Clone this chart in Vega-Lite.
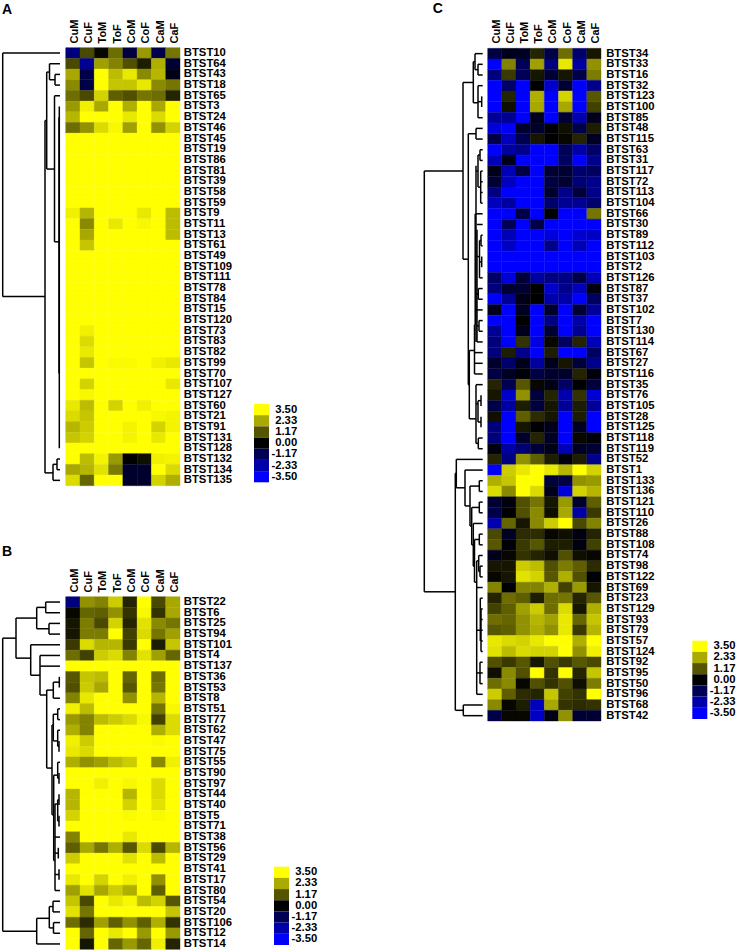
{"$schema":"https://vega.github.io/schema/vega-lite/v6.json","width":737,"height":951,"padding":0,"autosize":"none","background":"white","config":{"view":{"stroke":null},"axis":{"domain":false,"ticks":false,"grid":false,"labelFont":"Liberation Sans","labelFontWeight":"bold","labelFontSize":11.3,"labelColor":"#000000","labelOverlap":false,"labelBound":false,"labelFlush":false}},
"datasets":{
"legend":[{"label":"3.50","v":3.5,"k":"key"},{"label":"2.33","v":2.33,"k":"key"},{"label":"1.17","v":1.17,"k":"key"},{"label":"0.00","v":0,"k":"key"},{"label":"-1.17","v":-1.17,"k":"key"},{"label":"-2.33","v":-2.33,"k":"key"},{"label":"-3.50","v":-3.5,"k":"key"}],
"dendroA":[{"h0":0,"h1":57.3,"r0":0,"r1":0},{"h0":57.3,"h1":57.3,"r0":0,"r1":22.8},{"h0":15,"h1":57.3,"r0":22.8,"r1":22.8},{"h0":15,"h1":15,"r0":6.32,"r1":39.3},{"h0":13.3,"h1":15,"r0":6.32,"r1":6.32},{"h0":13.3,"h1":13.3,"r0":1.78,"r1":10.86},{"h0":10.5,"h1":13.3,"r0":1.78,"r1":1.78},{"h0":10.5,"h1":10.5,"r0":1,"r1":2.5},{"h0":0,"h1":10.5,"r0":1,"r1":1},{"h0":5,"h1":10.5,"r0":2.5,"r1":2.5},{"h0":5,"h1":5,"r0":2,"r1":3},{"h0":0,"h1":5,"r0":2,"r1":2},{"h0":0,"h1":5,"r0":3,"r1":3},{"h0":5.5,"h1":13.3,"r0":10.86,"r1":10.86},{"h0":5.5,"h1":5.5,"r0":4,"r1":17.67},{"h0":0,"h1":5.5,"r0":4,"r1":4},{"h0":1,"h1":5.5,"r0":17.67,"r1":17.67},{"h0":0.7,"h1":0.7,"r0":5,"r1":37},{"h0":1,"h1":1,"r0":6,"r1":30},{"h0":7,"h1":15,"r0":39.3,"r1":39.3},{"h0":7,"h1":7,"r0":38.5,"r1":40},{"h0":0,"h1":7,"r0":40,"r1":40},{"h0":3,"h1":7,"r0":38.5,"r1":38.5},{"h0":3,"h1":3,"r0":38,"r1":39},{"h0":0,"h1":3,"r0":38,"r1":38},{"h0":0,"h1":3,"r0":39,"r1":39}],
"dendroB":[{"h0":57.3,"h1":57.3,"r0":3.38,"r1":30.8},{"h0":44,"h1":57.3,"r0":3.38,"r1":3.38},{"h0":23.3,"h1":57.3,"r0":30.8,"r1":30.8},{"h0":44,"h1":44,"r0":1.5,"r1":5.25},{"h0":23.3,"h1":44,"r0":1.5,"r1":1.5},{"h0":23.3,"h1":23.3,"r0":0.5,"r1":2.5},{"h0":14.3,"h1":23.3,"r0":0.5,"r1":0.5},{"h0":14.3,"h1":14.3,"r0":0,"r1":1},{"h0":0,"h1":14.3,"r0":0,"r1":0},{"h0":0,"h1":14.3,"r0":1,"r1":1},{"h0":11,"h1":23.3,"r0":2.5,"r1":2.5},{"h0":11,"h1":11,"r0":2,"r1":3},{"h0":0,"h1":11,"r0":2,"r1":2},{"h0":0,"h1":11,"r0":3,"r1":3},{"h0":29.3,"h1":44,"r0":5.25,"r1":5.25},{"h0":29.3,"h1":29.3,"r0":4,"r1":6.85},{"h0":0,"h1":29.3,"r0":4,"r1":4},{"h0":20,"h1":29.3,"r0":6.85,"r1":6.85},{"h0":20,"h1":20,"r0":5,"r1":8.7},{"h0":0,"h1":20,"r0":5,"r1":5},{"h0":0,"h1":20,"r0":6,"r1":6},{"h0":13.3,"h1":20,"r0":8.7,"r1":8.7},{"h0":13.3,"h1":13.3,"r0":8.24,"r1":15.54},{"h0":6.7,"h1":13.3,"r0":8.24,"r1":8.24},{"h0":6.7,"h1":6.7,"r0":7.5,"r1":9},{"h0":0.7,"h1":6.7,"r0":7.5,"r1":7.5},{"h0":0.7,"h1":0.7,"r0":7,"r1":8},{"h0":0,"h1":6.7,"r0":9,"r1":9},{"h0":8,"h1":13.3,"r0":15.54,"r1":15.54},{"h0":8,"h1":8,"r0":11.5,"r1":19.9},{"h0":6.7,"h1":8,"r0":11.5,"r1":11.5},{"h0":6.7,"h1":6.7,"r0":10.5,"r1":13},{"h0":2.3,"h1":6.7,"r0":10.5,"r1":10.5},{"h0":2.3,"h1":2.3,"r0":10,"r1":11},{"h0":0,"h1":2.3,"r0":10,"r1":10},{"h0":0,"h1":2.3,"r0":11,"r1":11},{"h0":2.3,"h1":6.7,"r0":13,"r1":13},{"h0":2.3,"h1":2.3,"r0":12,"r1":13.5},{"h0":0,"h1":2.3,"r0":12,"r1":12},{"h0":1,"h1":2.3,"r0":13.5,"r1":13.5},{"h0":1,"h1":1,"r0":13,"r1":14},{"h0":6.3,"h1":8,"r0":19.9,"r1":19.9},{"h0":6.3,"h1":6.3,"r0":16.2,"r1":24.2},{"h0":2.3,"h1":6.3,"r0":16.2,"r1":16.2},{"h0":2.3,"h1":2.3,"r0":15,"r1":16.5},{"h0":0,"h1":2.3,"r0":15,"r1":15},{"h0":1,"h1":2.3,"r0":16.5,"r1":16.5},{"h0":1,"h1":1,"r0":16,"r1":17},{"h0":5,"h1":6.3,"r0":24.2,"r1":24.2},{"h0":5,"h1":5,"r0":18.9,"r1":27},{"h0":2.3,"h1":5,"r0":18.9,"r1":18.9},{"h0":2.3,"h1":2.3,"r0":18.5,"r1":20.5},{"h0":1,"h1":2.3,"r0":18.5,"r1":18.5},{"h0":1,"h1":1,"r0":18,"r1":19},{"h0":1,"h1":2.3,"r0":20.5,"r1":20.5},{"h0":1,"h1":1,"r0":20,"r1":21},{"h0":0,"h1":5,"r0":22,"r1":22},{"h0":1.7,"h1":5,"r0":23.5,"r1":23.5},{"h0":1.7,"h1":1.7,"r0":23,"r1":24},{"h0":1,"h1":5,"r0":25.5,"r1":25.5},{"h0":1,"h1":1,"r0":25,"r1":26},{"h0":0,"h1":5,"r0":27,"r1":27},{"h0":23.3,"h1":23.3,"r0":29.6,"r1":32},{"h0":0,"h1":23.3,"r0":32,"r1":32},{"h0":10.7,"h1":23.3,"r0":29.6,"r1":29.6},{"h0":10.7,"h1":10.7,"r0":28.5,"r1":30.5},{"h0":7,"h1":10.7,"r0":28.5,"r1":28.5},{"h0":7,"h1":7,"r0":28,"r1":29},{"h0":0,"h1":7,"r0":28,"r1":28},{"h0":0,"h1":7,"r0":29,"r1":29},{"h0":6.5,"h1":10.7,"r0":30.5,"r1":30.5},{"h0":6.5,"h1":6.5,"r0":30,"r1":31},{"h0":0,"h1":6.5,"r0":30,"r1":30},{"h0":0,"h1":6.5,"r0":31,"r1":31}],
"dendroC":[{"h0":58.4,"h1":58.4,"r0":11,"r1":50.4},{"h0":19.7,"h1":58.4,"r0":11,"r1":11},{"h0":27.4,"h1":58.4,"r0":50.4,"r1":50.4},{"h0":19.7,"h1":19.7,"r0":2.7,"r1":19.25},{"h0":9.4,"h1":19.7,"r0":2.7,"r1":2.7},{"h0":9.4,"h1":9.4,"r0":0.75,"r1":4.6},{"h0":7.7,"h1":9.4,"r0":0.75,"r1":0.75},{"h0":7.7,"h1":7.7,"r0":0,"r1":1.5},{"h0":0,"h1":7.7,"r0":0,"r1":0},{"h0":4.7,"h1":7.7,"r0":1.5,"r1":1.5},{"h0":4.7,"h1":4.7,"r0":1,"r1":2},{"h0":0,"h1":4.7,"r0":1,"r1":1},{"h0":0,"h1":4.7,"r0":2,"r1":2},{"h0":4.7,"h1":9.4,"r0":4.6,"r1":4.6},{"h0":4.7,"h1":4.7,"r0":3,"r1":6},{"h0":0,"h1":4.7,"r0":3,"r1":3},{"h0":0,"h1":4.7,"r0":6,"r1":6},{"h0":1,"h1":4.7,"r0":4.5,"r1":4.5},{"h0":1,"h1":1,"r0":4,"r1":5},{"h0":14.4,"h1":19.7,"r0":19.25,"r1":19.25},{"h0":14.4,"h1":14.4,"r0":7.5,"r1":31},{"h0":6.7,"h1":14.4,"r0":7.5,"r1":7.5},{"h0":6.7,"h1":6.7,"r0":7,"r1":8},{"h0":0,"h1":6.7,"r0":7,"r1":7},{"h0":0,"h1":6.7,"r0":8,"r1":8},{"h0":13.4,"h1":14.4,"r0":31,"r1":31},{"h0":13.4,"h1":13.4,"r0":27.8,"r1":34.2},{"h0":8.2,"h1":13.4,"r0":27.8,"r1":27.8},{"h0":8.2,"h1":8.2,"r0":25.4,"r1":30},{"h0":0,"h1":8.2,"r0":28,"r1":28},{"h0":0,"h1":8.2,"r0":29,"r1":29},{"h0":0,"h1":8.2,"r0":30,"r1":30},{"h0":7.5,"h1":8.2,"r0":25.4,"r1":25.4},{"h0":7.5,"h1":7.5,"r0":15,"r1":25.4},{"h0":6.7,"h1":6.7,"r0":10.5,"r1":27},{"h0":5.7,"h1":5.7,"r0":16.5,"r1":27},{"h0":2.7,"h1":2.7,"r0":9,"r1":10},{"h0":0,"h1":2.7,"r0":9,"r1":9},{"h0":0,"h1":2.7,"r0":10,"r1":10},{"h0":2.7,"h1":4.7,"r0":9.5,"r1":9.5},{"h0":4.7,"h1":4.7,"r0":9.5,"r1":12.5},{"h0":2,"h1":4.7,"r0":12.5,"r1":12.5},{"h0":2,"h1":2,"r0":11,"r1":14},{"h0":0,"h1":2,"r0":11,"r1":11},{"h0":0,"h1":2,"r0":12,"r1":12},{"h0":0,"h1":2,"r0":13,"r1":13},{"h0":0,"h1":2,"r0":14,"r1":14},{"h0":4.7,"h1":6.7,"r0":11,"r1":11},{"h0":0,"h1":6.7,"r0":15,"r1":15},{"h0":0,"h1":5.7,"r0":16,"r1":16},{"h0":1.7,"h1":1.7,"r0":17,"r1":18},{"h0":0,"h1":1.7,"r0":17,"r1":17},{"h0":0,"h1":1.7,"r0":18,"r1":18},{"h0":1,"h1":1,"r0":19,"r1":20},{"h0":3.2,"h1":3.2,"r0":17.5,"r1":21},{"h0":1.7,"h1":3.2,"r0":17.5,"r1":17.5},{"h0":1,"h1":3.2,"r0":19.5,"r1":19.5},{"h0":0,"h1":3.2,"r0":21,"r1":21},{"h0":3.2,"h1":5.7,"r0":19,"r1":19},{"h0":4.4,"h1":4.4,"r0":22,"r1":23},{"h0":0,"h1":4.4,"r0":22,"r1":22},{"h0":0,"h1":4.4,"r0":23,"r1":23},{"h0":4.4,"h1":6.7,"r0":22.5,"r1":22.5},{"h0":0,"h1":6.7,"r0":24,"r1":24},{"h0":0,"h1":5.7,"r0":27,"r1":27},{"h0":3.7,"h1":3.7,"r0":25,"r1":26},{"h0":0,"h1":3.7,"r0":25,"r1":25},{"h0":0,"h1":3.7,"r0":26,"r1":26},{"h0":3.7,"h1":5.7,"r0":25.5,"r1":25.5},{"h0":6.7,"h1":13.4,"r0":34.2,"r1":34.2},{"h0":6.7,"h1":6.7,"r0":31,"r1":36.5},{"h0":0,"h1":6.7,"r0":31,"r1":31},{"h0":4.7,"h1":6.7,"r0":32.8,"r1":32.8},{"h0":4.7,"h1":4.7,"r0":32.5,"r1":34.5},{"h0":1.7,"h1":4.7,"r0":32.5,"r1":32.5},{"h0":1.7,"h1":1.7,"r0":32,"r1":33},{"h0":1.7,"h1":4.7,"r0":34.5,"r1":34.5},{"h0":1.7,"h1":1.7,"r0":34,"r1":35},{"h0":4.4,"h1":6.7,"r0":36.5,"r1":36.5},{"h0":4.4,"h1":4.4,"r0":36,"r1":37},{"h0":0,"h1":4.4,"r0":36,"r1":36},{"h0":0,"h1":4.4,"r0":37,"r1":37},{"h0":27.4,"h1":27.4,"r0":39.3,"r1":61.5},{"h0":26.4,"h1":27.4,"r0":39.3,"r1":39.3},{"h0":26.4,"h1":26.4,"r0":38,"r1":40.66},{"h0":0,"h1":26.4,"r0":38,"r1":38},{"h0":17.7,"h1":26.4,"r0":40.66,"r1":40.66},{"h0":17.7,"h1":17.7,"r0":39,"r1":42.36},{"h0":0,"h1":17.7,"r0":39,"r1":39},{"h0":12.7,"h1":17.7,"r0":42.36,"r1":42.36},{"h0":12.7,"h1":12.7,"r0":40.5,"r1":44.23},{"h0":3.4,"h1":12.7,"r0":40.5,"r1":40.5},{"h0":3.4,"h1":3.4,"r0":40,"r1":41},{"h0":0,"h1":3.4,"r0":40,"r1":40},{"h0":0,"h1":3.4,"r0":41,"r1":41},{"h0":11,"h1":12.7,"r0":44.23,"r1":44.23},{"h0":11,"h1":11,"r0":42.5,"r1":46},{"h0":3.4,"h1":11,"r0":42.5,"r1":42.5},{"h0":3.4,"h1":3.4,"r0":42,"r1":43},{"h0":0,"h1":3.4,"r0":42,"r1":42},{"h0":0,"h1":3.4,"r0":43,"r1":43},{"h0":9.4,"h1":11,"r0":46,"r1":46},{"h0":9.4,"h1":9.4,"r0":44,"r1":48},{"h0":0,"h1":9.4,"r0":44,"r1":44},{"h0":8.2,"h1":9.4,"r0":48,"r1":48},{"h0":8.2,"h1":8.2,"r0":45.5,"r1":49.5},{"h0":3.4,"h1":8.2,"r0":45.5,"r1":45.5},{"h0":3.4,"h1":3.4,"r0":45,"r1":46},{"h0":0,"h1":3.4,"r0":45,"r1":45},{"h0":0,"h1":3.4,"r0":46,"r1":46},{"h0":6,"h1":8.2,"r0":49.5,"r1":49.5},{"h0":6,"h1":6,"r0":47.5,"r1":60},{"h0":0,"h1":6,"r0":60,"r1":60},{"h0":0,"h1":6,"r0":50,"r1":50},{"h0":4,"h1":6,"r0":47.5,"r1":47.5},{"h0":4,"h1":4,"r0":47,"r1":48.5},{"h0":0,"h1":4,"r0":47,"r1":47},{"h0":2.7,"h1":4,"r0":48.5,"r1":48.5},{"h0":2.7,"h1":2.7,"r0":48,"r1":49},{"h0":0,"h1":2.7,"r0":48,"r1":48},{"h0":0,"h1":2.7,"r0":49,"r1":49},{"h0":2.4,"h1":6,"r0":54,"r1":54},{"h0":2.4,"h1":2.4,"r0":51,"r1":55},{"h0":0,"h1":2.4,"r0":51,"r1":51},{"h0":1.7,"h1":1.7,"r0":52,"r1":56},{"h0":0,"h1":1.7,"r0":52,"r1":52},{"h0":0,"h1":1.7,"r0":53,"r1":53},{"h0":0,"h1":1.7,"r0":54,"r1":54},{"h0":0,"h1":1.7,"r0":55,"r1":55},{"h0":0,"h1":1.7,"r0":56,"r1":56},{"h0":2.7,"h1":6,"r0":58,"r1":58},{"h0":2.7,"h1":2.7,"r0":57,"r1":59},{"h0":0,"h1":2.7,"r0":57,"r1":57},{"h0":0,"h1":2.7,"r0":58,"r1":58},{"h0":0,"h1":2.7,"r0":59,"r1":59},{"h0":19.4,"h1":19.4,"r0":61,"r1":62},{"h0":0,"h1":19.4,"r0":61,"r1":61},{"h0":0,"h1":19.4,"r0":62,"r1":62},{"h0":19.4,"h1":27.4,"r0":61.5,"r1":61.5}],
"heatA":[
{"g":"BTST10","c":"CuM","v":-1.7},{"g":"BTST10","c":"CuF","v":1},{"g":"BTST10","c":"ToM","v":0.1},{"g":"BTST10","c":"ToF","v":1.5},{"g":"BTST10","c":"CoM","v":-0.9},{"g":"BTST10","c":"CoF","v":2.1},{"g":"BTST10","c":"CaM","v":-1},{"g":"BTST10","c":"CaF","v":1.6},
{"g":"BTST64","c":"CuM","v":1},{"g":"BTST64","c":"CuF","v":-2},{"g":"BTST64","c":"ToM","v":2.2},{"g":"BTST64","c":"ToF","v":1.8},{"g":"BTST64","c":"CoM","v":1.1},{"g":"BTST64","c":"CoF","v":0.4},{"g":"BTST64","c":"CaM","v":2.4},{"g":"BTST64","c":"CaF","v":-0.7},
{"g":"BTST43","c":"CuM","v":2.3},{"g":"BTST43","c":"CuF","v":-1},{"g":"BTST43","c":"ToM","v":3.5},{"g":"BTST43","c":"ToF","v":2.6},{"g":"BTST43","c":"CoM","v":3.2},{"g":"BTST43","c":"CoF","v":1.9},{"g":"BTST43","c":"CaM","v":2.5},{"g":"BTST43","c":"CaF","v":-0.3},
{"g":"BTST18","c":"CuM","v":1.9},{"g":"BTST18","c":"CuF","v":-1},{"g":"BTST18","c":"ToM","v":3.5},{"g":"BTST18","c":"ToF","v":2.7},{"g":"BTST18","c":"CoM","v":2.7},{"g":"BTST18","c":"CoF","v":3.2},{"g":"BTST18","c":"CaM","v":1.9},{"g":"BTST18","c":"CaF","v":1.6},
{"g":"BTST65","c":"CuM","v":1.5},{"g":"BTST65","c":"CuF","v":1},{"g":"BTST65","c":"ToM","v":2.9},{"g":"BTST65","c":"ToF","v":1.3},{"g":"BTST65","c":"CoM","v":1.1},{"g":"BTST65","c":"CoF","v":1.6},{"g":"BTST65","c":"CaM","v":1.5},{"g":"BTST65","c":"CaF","v":0.5},
{"g":"BTST3","c":"CuM","v":2.1},{"g":"BTST3","c":"CuF","v":3.3},{"g":"BTST3","c":"ToM","v":2.3},{"g":"BTST3","c":"ToF","v":3.5},{"g":"BTST3","c":"CoM","v":2.4},{"g":"BTST3","c":"CoF","v":3.5},{"g":"BTST3","c":"CaM","v":2.3},{"g":"BTST3","c":"CaF","v":3.5},
{"g":"BTST24","c":"CuM","v":2.5},{"g":"BTST24","c":"CuF","v":3.5},{"g":"BTST24","c":"ToM","v":3.5},{"g":"BTST24","c":"ToF","v":3.5},{"g":"BTST24","c":"CoM","v":3.2},{"g":"BTST24","c":"CoF","v":3.5},{"g":"BTST24","c":"CaM","v":3},{"g":"BTST24","c":"CaF","v":3.5},
{"g":"BTST46","c":"CuM","v":1.5},{"g":"BTST46","c":"CuF","v":2},{"g":"BTST46","c":"ToM","v":3},{"g":"BTST46","c":"ToF","v":3.4},{"g":"BTST46","c":"CoM","v":2.2},{"g":"BTST46","c":"CoF","v":3.5},{"g":"BTST46","c":"CaM","v":2},{"g":"BTST46","c":"CaF","v":2.9},
{"g":"BTST45","c":"CuM","v":3.5},{"g":"BTST45","c":"CuF","v":3.5},{"g":"BTST45","c":"ToM","v":3.5},{"g":"BTST45","c":"ToF","v":3.5},{"g":"BTST45","c":"CoM","v":3.5},{"g":"BTST45","c":"CoF","v":3.5},{"g":"BTST45","c":"CaM","v":3.5},{"g":"BTST45","c":"CaF","v":3.5},
{"g":"BTST19","c":"CuM","v":3.5},{"g":"BTST19","c":"CuF","v":3.5},{"g":"BTST19","c":"ToM","v":3.5},{"g":"BTST19","c":"ToF","v":3.5},{"g":"BTST19","c":"CoM","v":3.5},{"g":"BTST19","c":"CoF","v":3.5},{"g":"BTST19","c":"CaM","v":3.5},{"g":"BTST19","c":"CaF","v":3.5},
{"g":"BTST86","c":"CuM","v":3.5},{"g":"BTST86","c":"CuF","v":3.5},{"g":"BTST86","c":"ToM","v":3.5},{"g":"BTST86","c":"ToF","v":3.5},{"g":"BTST86","c":"CoM","v":3.5},{"g":"BTST86","c":"CoF","v":3.5},{"g":"BTST86","c":"CaM","v":3.5},{"g":"BTST86","c":"CaF","v":3.5},
{"g":"BTST81","c":"CuM","v":3.5},{"g":"BTST81","c":"CuF","v":3.5},{"g":"BTST81","c":"ToM","v":3.5},{"g":"BTST81","c":"ToF","v":3.5},{"g":"BTST81","c":"CoM","v":3.5},{"g":"BTST81","c":"CoF","v":3.5},{"g":"BTST81","c":"CaM","v":3.5},{"g":"BTST81","c":"CaF","v":3.5},
{"g":"BTST39","c":"CuM","v":3.5},{"g":"BTST39","c":"CuF","v":3.5},{"g":"BTST39","c":"ToM","v":3.5},{"g":"BTST39","c":"ToF","v":3.5},{"g":"BTST39","c":"CoM","v":3.5},{"g":"BTST39","c":"CoF","v":3.5},{"g":"BTST39","c":"CaM","v":3.5},{"g":"BTST39","c":"CaF","v":3.5},
{"g":"BTST58","c":"CuM","v":3.5},{"g":"BTST58","c":"CuF","v":3.5},{"g":"BTST58","c":"ToM","v":3.5},{"g":"BTST58","c":"ToF","v":3.5},{"g":"BTST58","c":"CoM","v":3.5},{"g":"BTST58","c":"CoF","v":3.5},{"g":"BTST58","c":"CaM","v":3.5},{"g":"BTST58","c":"CaF","v":3.5},
{"g":"BTST59","c":"CuM","v":3.5},{"g":"BTST59","c":"CuF","v":3.5},{"g":"BTST59","c":"ToM","v":3.5},{"g":"BTST59","c":"ToF","v":3.5},{"g":"BTST59","c":"CoM","v":3.5},{"g":"BTST59","c":"CoF","v":3.5},{"g":"BTST59","c":"CaM","v":3.5},{"g":"BTST59","c":"CaF","v":3.5},
{"g":"BTST9","c":"CuM","v":3.3},{"g":"BTST9","c":"CuF","v":2.5},{"g":"BTST9","c":"ToM","v":3.5},{"g":"BTST9","c":"ToF","v":3.5},{"g":"BTST9","c":"CoM","v":3.5},{"g":"BTST9","c":"CoF","v":3.2},{"g":"BTST9","c":"CaM","v":3.5},{"g":"BTST9","c":"CaF","v":2.6},
{"g":"BTST11","c":"CuM","v":3.5},{"g":"BTST11","c":"CuF","v":1.9},{"g":"BTST11","c":"ToM","v":3.5},{"g":"BTST11","c":"ToF","v":3.2},{"g":"BTST11","c":"CoM","v":3.5},{"g":"BTST11","c":"CoF","v":3.4},{"g":"BTST11","c":"CaM","v":3.5},{"g":"BTST11","c":"CaF","v":2.6},
{"g":"BTST13","c":"CuM","v":3.5},{"g":"BTST13","c":"CuF","v":2.3},{"g":"BTST13","c":"ToM","v":3.5},{"g":"BTST13","c":"ToF","v":3.5},{"g":"BTST13","c":"CoM","v":3.5},{"g":"BTST13","c":"CoF","v":3.5},{"g":"BTST13","c":"CaM","v":3.5},{"g":"BTST13","c":"CaF","v":2.6},
{"g":"BTST61","c":"CuM","v":3.5},{"g":"BTST61","c":"CuF","v":2.7},{"g":"BTST61","c":"ToM","v":3.5},{"g":"BTST61","c":"ToF","v":3.5},{"g":"BTST61","c":"CoM","v":3.5},{"g":"BTST61","c":"CoF","v":3.5},{"g":"BTST61","c":"CaM","v":3.5},{"g":"BTST61","c":"CaF","v":3.5},
{"g":"BTST49","c":"CuM","v":3.5},{"g":"BTST49","c":"CuF","v":3.5},{"g":"BTST49","c":"ToM","v":3.5},{"g":"BTST49","c":"ToF","v":3.5},{"g":"BTST49","c":"CoM","v":3.5},{"g":"BTST49","c":"CoF","v":3.5},{"g":"BTST49","c":"CaM","v":3.5},{"g":"BTST49","c":"CaF","v":3.5},
{"g":"BTST109","c":"CuM","v":3.5},{"g":"BTST109","c":"CuF","v":3.5},{"g":"BTST109","c":"ToM","v":3.5},{"g":"BTST109","c":"ToF","v":3.5},{"g":"BTST109","c":"CoM","v":3.5},{"g":"BTST109","c":"CoF","v":3.5},{"g":"BTST109","c":"CaM","v":3.5},{"g":"BTST109","c":"CaF","v":3.5},
{"g":"BTST111","c":"CuM","v":3.5},{"g":"BTST111","c":"CuF","v":3.5},{"g":"BTST111","c":"ToM","v":3.5},{"g":"BTST111","c":"ToF","v":3.5},{"g":"BTST111","c":"CoM","v":3.5},{"g":"BTST111","c":"CoF","v":3.5},{"g":"BTST111","c":"CaM","v":3.5},{"g":"BTST111","c":"CaF","v":3.5},
{"g":"BTST78","c":"CuM","v":3.5},{"g":"BTST78","c":"CuF","v":3.5},{"g":"BTST78","c":"ToM","v":3.5},{"g":"BTST78","c":"ToF","v":3.5},{"g":"BTST78","c":"CoM","v":3.5},{"g":"BTST78","c":"CoF","v":3.5},{"g":"BTST78","c":"CaM","v":3.5},{"g":"BTST78","c":"CaF","v":3.5},
{"g":"BTST84","c":"CuM","v":3.5},{"g":"BTST84","c":"CuF","v":3.5},{"g":"BTST84","c":"ToM","v":3.5},{"g":"BTST84","c":"ToF","v":3.5},{"g":"BTST84","c":"CoM","v":3.5},{"g":"BTST84","c":"CoF","v":3.5},{"g":"BTST84","c":"CaM","v":3.5},{"g":"BTST84","c":"CaF","v":3.5},
{"g":"BTST15","c":"CuM","v":3.5},{"g":"BTST15","c":"CuF","v":3.5},{"g":"BTST15","c":"ToM","v":3.5},{"g":"BTST15","c":"ToF","v":3.5},{"g":"BTST15","c":"CoM","v":3.5},{"g":"BTST15","c":"CoF","v":3.5},{"g":"BTST15","c":"CaM","v":3.5},{"g":"BTST15","c":"CaF","v":3.5},
{"g":"BTST120","c":"CuM","v":3.5},{"g":"BTST120","c":"CuF","v":3.5},{"g":"BTST120","c":"ToM","v":3.5},{"g":"BTST120","c":"ToF","v":3.5},{"g":"BTST120","c":"CoM","v":3.5},{"g":"BTST120","c":"CoF","v":3.5},{"g":"BTST120","c":"CaM","v":3.5},{"g":"BTST120","c":"CaF","v":3.5},
{"g":"BTST73","c":"CuM","v":3.5},{"g":"BTST73","c":"CuF","v":3.3},{"g":"BTST73","c":"ToM","v":3.5},{"g":"BTST73","c":"ToF","v":3.5},{"g":"BTST73","c":"CoM","v":3.5},{"g":"BTST73","c":"CoF","v":3.5},{"g":"BTST73","c":"CaM","v":3.5},{"g":"BTST73","c":"CaF","v":3.5},
{"g":"BTST83","c":"CuM","v":3.5},{"g":"BTST83","c":"CuF","v":3},{"g":"BTST83","c":"ToM","v":3.5},{"g":"BTST83","c":"ToF","v":3.5},{"g":"BTST83","c":"CoM","v":3.5},{"g":"BTST83","c":"CoF","v":3.5},{"g":"BTST83","c":"CaM","v":3.5},{"g":"BTST83","c":"CaF","v":3.5},
{"g":"BTST82","c":"CuM","v":3.5},{"g":"BTST82","c":"CuF","v":3.2},{"g":"BTST82","c":"ToM","v":3.5},{"g":"BTST82","c":"ToF","v":3.5},{"g":"BTST82","c":"CoM","v":3.5},{"g":"BTST82","c":"CoF","v":3.5},{"g":"BTST82","c":"CaM","v":3.5},{"g":"BTST82","c":"CaF","v":3.5},
{"g":"BTST99","c":"CuM","v":3.5},{"g":"BTST99","c":"CuF","v":2.7},{"g":"BTST99","c":"ToM","v":3.5},{"g":"BTST99","c":"ToF","v":3.45},{"g":"BTST99","c":"CoM","v":3.45},{"g":"BTST99","c":"CoF","v":3.5},{"g":"BTST99","c":"CaM","v":3.3},{"g":"BTST99","c":"CaF","v":3.2},
{"g":"BTST70","c":"CuM","v":3.5},{"g":"BTST70","c":"CuF","v":3.5},{"g":"BTST70","c":"ToM","v":3.5},{"g":"BTST70","c":"ToF","v":3.5},{"g":"BTST70","c":"CoM","v":3.5},{"g":"BTST70","c":"CoF","v":3.5},{"g":"BTST70","c":"CaM","v":3.5},{"g":"BTST70","c":"CaF","v":3.5},
{"g":"BTST107","c":"CuM","v":3.5},{"g":"BTST107","c":"CuF","v":2.9},{"g":"BTST107","c":"ToM","v":3.5},{"g":"BTST107","c":"ToF","v":3.5},{"g":"BTST107","c":"CoM","v":3.5},{"g":"BTST107","c":"CoF","v":3.5},{"g":"BTST107","c":"CaM","v":3.5},{"g":"BTST107","c":"CaF","v":3.2},
{"g":"BTST127","c":"CuM","v":3.5},{"g":"BTST127","c":"CuF","v":3.4},{"g":"BTST127","c":"ToM","v":3.5},{"g":"BTST127","c":"ToF","v":3.5},{"g":"BTST127","c":"CoM","v":3.5},{"g":"BTST127","c":"CoF","v":3.5},{"g":"BTST127","c":"CaM","v":3.5},{"g":"BTST127","c":"CaF","v":3.5},
{"g":"BTST60","c":"CuM","v":3.2},{"g":"BTST60","c":"CuF","v":2.6},{"g":"BTST60","c":"ToM","v":3.5},{"g":"BTST60","c":"ToF","v":2.9},{"g":"BTST60","c":"CoM","v":3.5},{"g":"BTST60","c":"CoF","v":3.3},{"g":"BTST60","c":"CaM","v":3.5},{"g":"BTST60","c":"CaF","v":3.5},
{"g":"BTST21","c":"CuM","v":3},{"g":"BTST21","c":"CuF","v":2.7},{"g":"BTST21","c":"ToM","v":3.5},{"g":"BTST21","c":"ToF","v":3.5},{"g":"BTST21","c":"CoM","v":3.5},{"g":"BTST21","c":"CoF","v":3.5},{"g":"BTST21","c":"CaM","v":3.4},{"g":"BTST21","c":"CaF","v":3.35},
{"g":"BTST91","c":"CuM","v":2.5},{"g":"BTST91","c":"CuF","v":2.8},{"g":"BTST91","c":"ToM","v":3.5},{"g":"BTST91","c":"ToF","v":3.5},{"g":"BTST91","c":"CoM","v":3.35},{"g":"BTST91","c":"CoF","v":3.5},{"g":"BTST91","c":"CaM","v":2.9},{"g":"BTST91","c":"CaF","v":3.35},
{"g":"BTST131","c":"CuM","v":2.7},{"g":"BTST131","c":"CuF","v":2.9},{"g":"BTST131","c":"ToM","v":3.5},{"g":"BTST131","c":"ToF","v":3.5},{"g":"BTST131","c":"CoM","v":3.35},{"g":"BTST131","c":"CoF","v":3.5},{"g":"BTST131","c":"CaM","v":3.2},{"g":"BTST131","c":"CaF","v":3.5},
{"g":"BTST128","c":"CuM","v":3.5},{"g":"BTST128","c":"CuF","v":3.5},{"g":"BTST128","c":"ToM","v":3.5},{"g":"BTST128","c":"ToF","v":3.5},{"g":"BTST128","c":"CoM","v":3.5},{"g":"BTST128","c":"CoF","v":3.5},{"g":"BTST128","c":"CaM","v":3.5},{"g":"BTST128","c":"CaF","v":3.5},
{"g":"BTST132","c":"CuM","v":3.5},{"g":"BTST132","c":"CuF","v":2.6},{"g":"BTST132","c":"ToM","v":3.35},{"g":"BTST132","c":"ToF","v":2.1},{"g":"BTST132","c":"CoM","v":0},{"g":"BTST132","c":"CoF","v":0.2},{"g":"BTST132","c":"CaM","v":3.3},{"g":"BTST132","c":"CaF","v":3.35},
{"g":"BTST134","c":"CuM","v":2.3},{"g":"BTST134","c":"CuF","v":2.5},{"g":"BTST134","c":"ToM","v":3.1},{"g":"BTST134","c":"ToF","v":1.7},{"g":"BTST134","c":"CoM","v":-0.6},{"g":"BTST134","c":"CoF","v":-0.6},{"g":"BTST134","c":"CaM","v":3.5},{"g":"BTST134","c":"CaF","v":3},
{"g":"BTST135","c":"CuM","v":3},{"g":"BTST135","c":"CuF","v":1.4},{"g":"BTST135","c":"ToM","v":3.5},{"g":"BTST135","c":"ToF","v":3.5},{"g":"BTST135","c":"CoM","v":-0.6},{"g":"BTST135","c":"CoF","v":-0.6},{"g":"BTST135","c":"CaM","v":2.9},{"g":"BTST135","c":"CaF","v":2.4}],
"heatB":[
{"g":"BTST22","c":"CuM","v":-1.7},{"g":"BTST22","c":"CuF","v":2},{"g":"BTST22","c":"ToM","v":1.8},{"g":"BTST22","c":"ToF","v":2.8},{"g":"BTST22","c":"CoM","v":0.5},{"g":"BTST22","c":"CoF","v":3.5},{"g":"BTST22","c":"CaM","v":1},{"g":"BTST22","c":"CaF","v":2.3},
{"g":"BTST6","c":"CuM","v":0.1},{"g":"BTST6","c":"CuF","v":1.4},{"g":"BTST6","c":"ToM","v":1.3},{"g":"BTST6","c":"ToF","v":2},{"g":"BTST6","c":"CoM","v":0.7},{"g":"BTST6","c":"CoF","v":3.4},{"g":"BTST6","c":"CaM","v":0.7},{"g":"BTST6","c":"CaF","v":2.3},
{"g":"BTST25","c":"CuM","v":0.3},{"g":"BTST25","c":"CuF","v":1.7},{"g":"BTST25","c":"ToM","v":1},{"g":"BTST25","c":"ToF","v":2.9},{"g":"BTST25","c":"CoM","v":0.5},{"g":"BTST25","c":"CoF","v":3.1},{"g":"BTST25","c":"CaM","v":1.9},{"g":"BTST25","c":"CaF","v":1.6},
{"g":"BTST94","c":"CuM","v":0.3},{"g":"BTST94","c":"CuF","v":1.7},{"g":"BTST94","c":"ToM","v":1.7},{"g":"BTST94","c":"ToF","v":3.5},{"g":"BTST94","c":"CoM","v":0.9},{"g":"BTST94","c":"CoF","v":3},{"g":"BTST94","c":"CaM","v":1.6},{"g":"BTST94","c":"CaF","v":2.2},
{"g":"BTST101","c":"CuM","v":0.8},{"g":"BTST101","c":"CuF","v":3},{"g":"BTST101","c":"ToM","v":2.5},{"g":"BTST101","c":"ToF","v":2.5},{"g":"BTST101","c":"CoM","v":0.8},{"g":"BTST101","c":"CoF","v":3.5},{"g":"BTST101","c":"CaM","v":0.4},{"g":"BTST101","c":"CaF","v":2.7},
{"g":"BTST4","c":"CuM","v":1.5},{"g":"BTST4","c":"CuF","v":0.9},{"g":"BTST4","c":"ToM","v":2.8},{"g":"BTST4","c":"ToF","v":3},{"g":"BTST4","c":"CoM","v":1.8},{"g":"BTST4","c":"CoF","v":3.1},{"g":"BTST4","c":"CaM","v":2.2},{"g":"BTST4","c":"CaF","v":1.4},
{"g":"BTST137","c":"CuM","v":3.5},{"g":"BTST137","c":"CuF","v":3.5},{"g":"BTST137","c":"ToM","v":3.5},{"g":"BTST137","c":"ToF","v":3.5},{"g":"BTST137","c":"CoM","v":3.5},{"g":"BTST137","c":"CoF","v":3.5},{"g":"BTST137","c":"CaM","v":3.5},{"g":"BTST137","c":"CaF","v":3.5},
{"g":"BTST36","c":"CuM","v":1.2},{"g":"BTST36","c":"CuF","v":2.7},{"g":"BTST36","c":"ToM","v":2.6},{"g":"BTST36","c":"ToF","v":3.5},{"g":"BTST36","c":"CoM","v":1.4},{"g":"BTST36","c":"CoF","v":3.5},{"g":"BTST36","c":"CaM","v":1.5},{"g":"BTST36","c":"CaF","v":3.5},
{"g":"BTST53","c":"CuM","v":1.1},{"g":"BTST53","c":"CuF","v":2.8},{"g":"BTST53","c":"ToM","v":2.3},{"g":"BTST53","c":"ToF","v":3.5},{"g":"BTST53","c":"CoM","v":1.2},{"g":"BTST53","c":"CoF","v":3.5},{"g":"BTST53","c":"CaM","v":1.6},{"g":"BTST53","c":"CaF","v":3.5},
{"g":"BTST8","c":"CuM","v":1.8},{"g":"BTST8","c":"CuF","v":3.2},{"g":"BTST8","c":"ToM","v":3.5},{"g":"BTST8","c":"ToF","v":3.5},{"g":"BTST8","c":"CoM","v":2},{"g":"BTST8","c":"CoF","v":3.5},{"g":"BTST8","c":"CaM","v":2.5},{"g":"BTST8","c":"CaF","v":3.5},
{"g":"BTST51","c":"CuM","v":3.3},{"g":"BTST51","c":"CuF","v":2.6},{"g":"BTST51","c":"ToM","v":3.5},{"g":"BTST51","c":"ToF","v":3.5},{"g":"BTST51","c":"CoM","v":3.5},{"g":"BTST51","c":"CoF","v":3.5},{"g":"BTST51","c":"CaM","v":1.6},{"g":"BTST51","c":"CaF","v":3.4},
{"g":"BTST77","c":"CuM","v":2.1},{"g":"BTST77","c":"CuF","v":1.8},{"g":"BTST77","c":"ToM","v":2.6},{"g":"BTST77","c":"ToF","v":2.8},{"g":"BTST77","c":"CoM","v":3},{"g":"BTST77","c":"CoF","v":3.4},{"g":"BTST77","c":"CaM","v":0.9},{"g":"BTST77","c":"CaF","v":3},
{"g":"BTST62","c":"CuM","v":2.4},{"g":"BTST62","c":"CuF","v":1.8},{"g":"BTST62","c":"ToM","v":3.5},{"g":"BTST62","c":"ToF","v":3.5},{"g":"BTST62","c":"CoM","v":3.5},{"g":"BTST62","c":"CoF","v":3.5},{"g":"BTST62","c":"CaM","v":2.4},{"g":"BTST62","c":"CaF","v":3},
{"g":"BTST47","c":"CuM","v":3.3},{"g":"BTST47","c":"CuF","v":2.8},{"g":"BTST47","c":"ToM","v":3.5},{"g":"BTST47","c":"ToF","v":3.5},{"g":"BTST47","c":"CoM","v":3.5},{"g":"BTST47","c":"CoF","v":3.5},{"g":"BTST47","c":"CaM","v":3.45},{"g":"BTST47","c":"CaF","v":3.5},
{"g":"BTST75","c":"CuM","v":3.2},{"g":"BTST75","c":"CuF","v":3},{"g":"BTST75","c":"ToM","v":3.5},{"g":"BTST75","c":"ToF","v":3.5},{"g":"BTST75","c":"CoM","v":3.5},{"g":"BTST75","c":"CoF","v":3.5},{"g":"BTST75","c":"CaM","v":3.5},{"g":"BTST75","c":"CaF","v":3.5},
{"g":"BTST55","c":"CuM","v":2.4},{"g":"BTST55","c":"CuF","v":2},{"g":"BTST55","c":"ToM","v":2.2},{"g":"BTST55","c":"ToF","v":2.6},{"g":"BTST55","c":"CoM","v":2.8},{"g":"BTST55","c":"CoF","v":3.5},{"g":"BTST55","c":"CaM","v":1.9},{"g":"BTST55","c":"CaF","v":3.3},
{"g":"BTST90","c":"CuM","v":3.5},{"g":"BTST90","c":"CuF","v":3.5},{"g":"BTST90","c":"ToM","v":3.5},{"g":"BTST90","c":"ToF","v":3.5},{"g":"BTST90","c":"CoM","v":3.5},{"g":"BTST90","c":"CoF","v":3.5},{"g":"BTST90","c":"CaM","v":3.5},{"g":"BTST90","c":"CaF","v":3.5},
{"g":"BTST97","c":"CuM","v":3.5},{"g":"BTST97","c":"CuF","v":3.5},{"g":"BTST97","c":"ToM","v":3.3},{"g":"BTST97","c":"ToF","v":3.5},{"g":"BTST97","c":"CoM","v":3.4},{"g":"BTST97","c":"CoF","v":3.5},{"g":"BTST97","c":"CaM","v":3},{"g":"BTST97","c":"CaF","v":3.5},
{"g":"BTST44","c":"CuM","v":2.5},{"g":"BTST44","c":"CuF","v":3.5},{"g":"BTST44","c":"ToM","v":3.5},{"g":"BTST44","c":"ToF","v":3.5},{"g":"BTST44","c":"CoM","v":2.5},{"g":"BTST44","c":"CoF","v":3.5},{"g":"BTST44","c":"CaM","v":3},{"g":"BTST44","c":"CaF","v":3.5},
{"g":"BTST40","c":"CuM","v":2.5},{"g":"BTST40","c":"CuF","v":3.5},{"g":"BTST40","c":"ToM","v":3.5},{"g":"BTST40","c":"ToF","v":3.5},{"g":"BTST40","c":"CoM","v":2.9},{"g":"BTST40","c":"CoF","v":3.5},{"g":"BTST40","c":"CaM","v":3.1},{"g":"BTST40","c":"CaF","v":3.5},
{"g":"BTST5","c":"CuM","v":2.9},{"g":"BTST5","c":"CuF","v":3.5},{"g":"BTST5","c":"ToM","v":3.5},{"g":"BTST5","c":"ToF","v":3.5},{"g":"BTST5","c":"CoM","v":3.45},{"g":"BTST5","c":"CoF","v":3.5},{"g":"BTST5","c":"CaM","v":3.42},{"g":"BTST5","c":"CaF","v":3.5},
{"g":"BTST71","c":"CuM","v":3.5},{"g":"BTST71","c":"CuF","v":3.5},{"g":"BTST71","c":"ToM","v":3.5},{"g":"BTST71","c":"ToF","v":3.5},{"g":"BTST71","c":"CoM","v":3.5},{"g":"BTST71","c":"CoF","v":3.5},{"g":"BTST71","c":"CaM","v":3.5},{"g":"BTST71","c":"CaF","v":3.5},
{"g":"BTST38","c":"CuM","v":1.8},{"g":"BTST38","c":"CuF","v":3.5},{"g":"BTST38","c":"ToM","v":3.5},{"g":"BTST38","c":"ToF","v":3.5},{"g":"BTST38","c":"CoM","v":3.2},{"g":"BTST38","c":"CoF","v":3.5},{"g":"BTST38","c":"CaM","v":3.5},{"g":"BTST38","c":"CaF","v":3.5},
{"g":"BTST56","c":"CuM","v":1.3},{"g":"BTST56","c":"CuF","v":2.3},{"g":"BTST56","c":"ToM","v":1.6},{"g":"BTST56","c":"ToF","v":2.4},{"g":"BTST56","c":"CoM","v":1.2},{"g":"BTST56","c":"CoF","v":3},{"g":"BTST56","c":"CaM","v":1},{"g":"BTST56","c":"CaF","v":2.5},
{"g":"BTST29","c":"CuM","v":2.8},{"g":"BTST29","c":"CuF","v":3.5},{"g":"BTST29","c":"ToM","v":3.5},{"g":"BTST29","c":"ToF","v":3.5},{"g":"BTST29","c":"CoM","v":3.1},{"g":"BTST29","c":"CoF","v":3.5},{"g":"BTST29","c":"CaM","v":2.6},{"g":"BTST29","c":"CaF","v":3.5},
{"g":"BTST41","c":"CuM","v":3.5},{"g":"BTST41","c":"CuF","v":3.5},{"g":"BTST41","c":"ToM","v":3.5},{"g":"BTST41","c":"ToF","v":3.5},{"g":"BTST41","c":"CoM","v":3.5},{"g":"BTST41","c":"CoF","v":3.5},{"g":"BTST41","c":"CaM","v":3.5},{"g":"BTST41","c":"CaF","v":3.5},
{"g":"BTST17","c":"CuM","v":3.2},{"g":"BTST17","c":"CuF","v":3.5},{"g":"BTST17","c":"ToM","v":2.9},{"g":"BTST17","c":"ToF","v":3.5},{"g":"BTST17","c":"CoM","v":3.3},{"g":"BTST17","c":"CoF","v":3.5},{"g":"BTST17","c":"CaM","v":2},{"g":"BTST17","c":"CaF","v":3.5},
{"g":"BTST80","c":"CuM","v":2.2},{"g":"BTST80","c":"CuF","v":3.1},{"g":"BTST80","c":"ToM","v":2.3},{"g":"BTST80","c":"ToF","v":2.8},{"g":"BTST80","c":"CoM","v":2.4},{"g":"BTST80","c":"CoF","v":3.5},{"g":"BTST80","c":"CaM","v":1.3},{"g":"BTST80","c":"CaF","v":3.5},
{"g":"BTST54","c":"CuM","v":2.7},{"g":"BTST54","c":"CuF","v":1},{"g":"BTST54","c":"ToM","v":3.5},{"g":"BTST54","c":"ToF","v":3.2},{"g":"BTST54","c":"CoM","v":3.4},{"g":"BTST54","c":"CoF","v":2.6},{"g":"BTST54","c":"CaM","v":2.9},{"g":"BTST54","c":"CaF","v":1.2},
{"g":"BTST20","c":"CuM","v":3.1},{"g":"BTST20","c":"CuF","v":1.6},{"g":"BTST20","c":"ToM","v":3.5},{"g":"BTST20","c":"ToF","v":3.5},{"g":"BTST20","c":"CoM","v":3.5},{"g":"BTST20","c":"CoF","v":3.5},{"g":"BTST20","c":"CaM","v":3.5},{"g":"BTST20","c":"CaF","v":2.7},
{"g":"BTST106","c":"CuM","v":1.5},{"g":"BTST106","c":"CuF","v":0.6},{"g":"BTST106","c":"ToM","v":2.2},{"g":"BTST106","c":"ToF","v":1.3},{"g":"BTST106","c":"CoM","v":2},{"g":"BTST106","c":"CoF","v":1.3},{"g":"BTST106","c":"CaM","v":2.4},{"g":"BTST106","c":"CaF","v":0.7},
{"g":"BTST12","c":"CuM","v":3.5},{"g":"BTST12","c":"CuF","v":1.4},{"g":"BTST12","c":"ToM","v":3.5},{"g":"BTST12","c":"ToF","v":3.2},{"g":"BTST12","c":"CoM","v":3.5},{"g":"BTST12","c":"CoF","v":2.1},{"g":"BTST12","c":"CaM","v":3.5},{"g":"BTST12","c":"CaF","v":2.1},
{"g":"BTST14","c":"CuM","v":3.5},{"g":"BTST14","c":"CuF","v":0.3},{"g":"BTST14","c":"ToM","v":3.5},{"g":"BTST14","c":"ToF","v":1.4},{"g":"BTST14","c":"CoM","v":2.1},{"g":"BTST14","c":"CoF","v":1.4},{"g":"BTST14","c":"CaM","v":3.3},{"g":"BTST14","c":"CaF","v":0.5}],
"heatC":[
{"g":"BTST34","c":"CuM","v":-0.9},{"g":"BTST34","c":"CuF","v":-0.4},{"g":"BTST34","c":"ToM","v":-0.5},{"g":"BTST34","c":"ToF","v":0.5},{"g":"BTST34","c":"CoM","v":-1},{"g":"BTST34","c":"CoF","v":1.5},{"g":"BTST34","c":"CaM","v":-1.5},{"g":"BTST34","c":"CaF","v":0.3},
{"g":"BTST33","c":"CuM","v":-3.5},{"g":"BTST33","c":"CuF","v":1.8},{"g":"BTST33","c":"ToM","v":-1.2},{"g":"BTST33","c":"ToF","v":2.2},{"g":"BTST33","c":"CoM","v":-1.7},{"g":"BTST33","c":"CoF","v":3.2},{"g":"BTST33","c":"CaM","v":-2.2},{"g":"BTST33","c":"CaF","v":2},
{"g":"BTST16","c":"CuM","v":-1.7},{"g":"BTST16","c":"CuF","v":0.8},{"g":"BTST16","c":"ToM","v":-1.2},{"g":"BTST16","c":"ToF","v":0.3},{"g":"BTST16","c":"CoM","v":-0.7},{"g":"BTST16","c":"CoF","v":0.3},{"g":"BTST16","c":"CaM","v":-1},{"g":"BTST16","c":"CaF","v":1.7},
{"g":"BTST32","c":"CuM","v":-3.5},{"g":"BTST32","c":"CuF","v":-1.4},{"g":"BTST32","c":"ToM","v":-3.5},{"g":"BTST32","c":"ToF","v":0},{"g":"BTST32","c":"CoM","v":-2.8},{"g":"BTST32","c":"CoF","v":-0.7},{"g":"BTST32","c":"CaM","v":-3.5},{"g":"BTST32","c":"CaF","v":-1.9},
{"g":"BTST123","c":"CuM","v":-3.5},{"g":"BTST123","c":"CuF","v":0.5},{"g":"BTST123","c":"ToM","v":-3.5},{"g":"BTST123","c":"ToF","v":2.4},{"g":"BTST123","c":"CoM","v":-3.5},{"g":"BTST123","c":"CoF","v":2.9},{"g":"BTST123","c":"CaM","v":-3.5},{"g":"BTST123","c":"CaF","v":1.2},
{"g":"BTST100","c":"CuM","v":-3.5},{"g":"BTST100","c":"CuF","v":0.2},{"g":"BTST100","c":"ToM","v":-3.5},{"g":"BTST100","c":"ToF","v":2.3},{"g":"BTST100","c":"CoM","v":-3.5},{"g":"BTST100","c":"CoF","v":2.3},{"g":"BTST100","c":"CaM","v":-3.5},{"g":"BTST100","c":"CaF","v":0.9},
{"g":"BTST85","c":"CuM","v":-2.1},{"g":"BTST85","c":"CuF","v":-2},{"g":"BTST85","c":"ToM","v":-3.5},{"g":"BTST85","c":"ToF","v":-0.4},{"g":"BTST85","c":"CoM","v":-3.5},{"g":"BTST85","c":"CoF","v":-0.7},{"g":"BTST85","c":"CaM","v":-2.4},{"g":"BTST85","c":"CaF","v":-0.4},
{"g":"BTST48","c":"CuM","v":-3},{"g":"BTST48","c":"CuF","v":-3.4},{"g":"BTST48","c":"ToM","v":-0.6},{"g":"BTST48","c":"ToF","v":-0.6},{"g":"BTST48","c":"CoM","v":-0.1},{"g":"BTST48","c":"CoF","v":0.2},{"g":"BTST48","c":"CaM","v":-1},{"g":"BTST48","c":"CaF","v":0.4},
{"g":"BTST115","c":"CuM","v":-1},{"g":"BTST115","c":"CuF","v":-2.6},{"g":"BTST115","c":"ToM","v":-1.1},{"g":"BTST115","c":"ToF","v":0.3},{"g":"BTST115","c":"CoM","v":0},{"g":"BTST115","c":"CoF","v":0.1},{"g":"BTST115","c":"CaM","v":0.5},{"g":"BTST115","c":"CaF","v":-0.5},
{"g":"BTST63","c":"CuM","v":-3.5},{"g":"BTST63","c":"CuF","v":-2.2},{"g":"BTST63","c":"ToM","v":-1.9},{"g":"BTST63","c":"ToF","v":-3.5},{"g":"BTST63","c":"CoM","v":-3.5},{"g":"BTST63","c":"CoF","v":-1.2},{"g":"BTST63","c":"CaM","v":-2.3},{"g":"BTST63","c":"CaF","v":-1.4},
{"g":"BTST31","c":"CuM","v":-2.5},{"g":"BTST31","c":"CuF","v":-0.4},{"g":"BTST31","c":"ToM","v":-3.5},{"g":"BTST31","c":"ToF","v":-3.5},{"g":"BTST31","c":"CoM","v":-3.5},{"g":"BTST31","c":"CoF","v":-1.3},{"g":"BTST31","c":"CaM","v":-3.5},{"g":"BTST31","c":"CaF","v":-1.9},
{"g":"BTST117","c":"CuM","v":-0.4},{"g":"BTST117","c":"CuF","v":-2.5},{"g":"BTST117","c":"ToM","v":-0.9},{"g":"BTST117","c":"ToF","v":-3.5},{"g":"BTST117","c":"CoM","v":-0.7},{"g":"BTST117","c":"CoF","v":-0.7},{"g":"BTST117","c":"CaM","v":-1.5},{"g":"BTST117","c":"CaF","v":-1.3},
{"g":"BTST72","c":"CuM","v":-0.7},{"g":"BTST72","c":"CuF","v":-2.6},{"g":"BTST72","c":"ToM","v":-3.5},{"g":"BTST72","c":"ToF","v":-3.5},{"g":"BTST72","c":"CoM","v":-0.9},{"g":"BTST72","c":"CoF","v":-0.7},{"g":"BTST72","c":"CaM","v":-1.6},{"g":"BTST72","c":"CaF","v":-1.9},
{"g":"BTST113","c":"CuM","v":-1.8},{"g":"BTST113","c":"CuF","v":-3.5},{"g":"BTST113","c":"ToM","v":-3.5},{"g":"BTST113","c":"ToF","v":-3.5},{"g":"BTST113","c":"CoM","v":-0.6},{"g":"BTST113","c":"CoF","v":-1.9},{"g":"BTST113","c":"CaM","v":-0.8},{"g":"BTST113","c":"CaF","v":-1.9},
{"g":"BTST104","c":"CuM","v":-2.6},{"g":"BTST104","c":"CuF","v":-2.2},{"g":"BTST104","c":"ToM","v":-3.5},{"g":"BTST104","c":"ToF","v":-3.5},{"g":"BTST104","c":"CoM","v":-1.5},{"g":"BTST104","c":"CoF","v":-2},{"g":"BTST104","c":"CaM","v":-2},{"g":"BTST104","c":"CaF","v":-1.5},
{"g":"BTST66","c":"CuM","v":-3.5},{"g":"BTST66","c":"CuF","v":-3.5},{"g":"BTST66","c":"ToM","v":-1},{"g":"BTST66","c":"ToF","v":-3.5},{"g":"BTST66","c":"CoM","v":-0.1},{"g":"BTST66","c":"CoF","v":-3.5},{"g":"BTST66","c":"CaM","v":-3.5},{"g":"BTST66","c":"CaF","v":1.6},
{"g":"BTST30","c":"CuM","v":-3.5},{"g":"BTST30","c":"CuF","v":-1.2},{"g":"BTST30","c":"ToM","v":-3.5},{"g":"BTST30","c":"ToF","v":-1},{"g":"BTST30","c":"CoM","v":-3.5},{"g":"BTST30","c":"CoF","v":-3.5},{"g":"BTST30","c":"CaM","v":-3.5},{"g":"BTST30","c":"CaF","v":-3.5},
{"g":"BTST89","c":"CuM","v":-3.5},{"g":"BTST89","c":"CuF","v":-2.5},{"g":"BTST89","c":"ToM","v":-3.5},{"g":"BTST89","c":"ToF","v":-3.5},{"g":"BTST89","c":"CoM","v":-3},{"g":"BTST89","c":"CoF","v":-3.5},{"g":"BTST89","c":"CaM","v":-2.9},{"g":"BTST89","c":"CaF","v":-2.7},
{"g":"BTST112","c":"CuM","v":-3.5},{"g":"BTST112","c":"CuF","v":-2.7},{"g":"BTST112","c":"ToM","v":-3.5},{"g":"BTST112","c":"ToF","v":-3.5},{"g":"BTST112","c":"CoM","v":-1.9},{"g":"BTST112","c":"CoF","v":-3.5},{"g":"BTST112","c":"CaM","v":-2.5},{"g":"BTST112","c":"CaF","v":-3.5},
{"g":"BTST103","c":"CuM","v":-3.5},{"g":"BTST103","c":"CuF","v":-3.5},{"g":"BTST103","c":"ToM","v":-3.5},{"g":"BTST103","c":"ToF","v":-3.5},{"g":"BTST103","c":"CoM","v":-3.5},{"g":"BTST103","c":"CoF","v":-3.5},{"g":"BTST103","c":"CaM","v":-3.5},{"g":"BTST103","c":"CaF","v":-3.5},
{"g":"BTST2","c":"CuM","v":-3.5},{"g":"BTST2","c":"CuF","v":-3.5},{"g":"BTST2","c":"ToM","v":-3.5},{"g":"BTST2","c":"ToF","v":-3.5},{"g":"BTST2","c":"CoM","v":-3.5},{"g":"BTST2","c":"CoF","v":-3.5},{"g":"BTST2","c":"CaM","v":-3.5},{"g":"BTST2","c":"CaF","v":-3.5},
{"g":"BTST126","c":"CuM","v":-1.4},{"g":"BTST126","c":"CuF","v":-3},{"g":"BTST126","c":"ToM","v":-0.8},{"g":"BTST126","c":"ToF","v":-2.2},{"g":"BTST126","c":"CoM","v":-1.8},{"g":"BTST126","c":"CoF","v":-1.8},{"g":"BTST126","c":"CaM","v":-1},{"g":"BTST126","c":"CaF","v":-2.5},
{"g":"BTST87","c":"CuM","v":-1.7},{"g":"BTST87","c":"CuF","v":-0.7},{"g":"BTST87","c":"ToM","v":-0.7},{"g":"BTST87","c":"ToF","v":0},{"g":"BTST87","c":"CoM","v":-2.8},{"g":"BTST87","c":"CoF","v":-1.9},{"g":"BTST87","c":"CaM","v":-2.6},{"g":"BTST87","c":"CaF","v":-0.2},
{"g":"BTST37","c":"CuM","v":-3.5},{"g":"BTST37","c":"CuF","v":-2},{"g":"BTST37","c":"ToM","v":-0.3},{"g":"BTST37","c":"ToF","v":0},{"g":"BTST37","c":"CoM","v":-2.3},{"g":"BTST37","c":"CoF","v":-2.3},{"g":"BTST37","c":"CaM","v":-3.5},{"g":"BTST37","c":"CaF","v":-1.3},
{"g":"BTST102","c":"CuM","v":-0.4},{"g":"BTST102","c":"CuF","v":-3.5},{"g":"BTST102","c":"ToM","v":-0.5},{"g":"BTST102","c":"ToF","v":-3.5},{"g":"BTST102","c":"CoM","v":-0.6},{"g":"BTST102","c":"CoF","v":-3.5},{"g":"BTST102","c":"CaM","v":-0.7},{"g":"BTST102","c":"CaF","v":-2.1},
{"g":"BTST7","c":"CuM","v":-3.5},{"g":"BTST7","c":"CuF","v":-3.5},{"g":"BTST7","c":"ToM","v":0},{"g":"BTST7","c":"ToF","v":-3.5},{"g":"BTST7","c":"CoM","v":-1.8},{"g":"BTST7","c":"CoF","v":-3.5},{"g":"BTST7","c":"CaM","v":-2.3},{"g":"BTST7","c":"CaF","v":-3.5},
{"g":"BTST130","c":"CuM","v":-2},{"g":"BTST130","c":"CuF","v":-3.5},{"g":"BTST130","c":"ToM","v":-0.4},{"g":"BTST130","c":"ToF","v":-3.5},{"g":"BTST130","c":"CoM","v":-0.7},{"g":"BTST130","c":"CoF","v":-3.5},{"g":"BTST130","c":"CaM","v":-2},{"g":"BTST130","c":"CaF","v":-3.5},
{"g":"BTST114","c":"CuM","v":-1.7},{"g":"BTST114","c":"CuF","v":-3.5},{"g":"BTST114","c":"ToM","v":0.7},{"g":"BTST114","c":"ToF","v":-3.1},{"g":"BTST114","c":"CoM","v":0.1},{"g":"BTST114","c":"CoF","v":-1.3},{"g":"BTST114","c":"CaM","v":0.5},{"g":"BTST114","c":"CaF","v":-2.5},
{"g":"BTST67","c":"CuM","v":-1.7},{"g":"BTST67","c":"CuF","v":0.4},{"g":"BTST67","c":"ToM","v":-1.9},{"g":"BTST67","c":"ToF","v":-3.5},{"g":"BTST67","c":"CoM","v":0.4},{"g":"BTST67","c":"CoF","v":-3.5},{"g":"BTST67","c":"CaM","v":-3.5},{"g":"BTST67","c":"CaF","v":-1.3},
{"g":"BTST27","c":"CuM","v":-0.6},{"g":"BTST27","c":"CuF","v":-1.5},{"g":"BTST27","c":"ToM","v":-0.4},{"g":"BTST27","c":"ToF","v":-2.2},{"g":"BTST27","c":"CoM","v":-0.4},{"g":"BTST27","c":"CoF","v":0.3},{"g":"BTST27","c":"CaM","v":-0.8},{"g":"BTST27","c":"CaF","v":-1.9},
{"g":"BTST116","c":"CuM","v":-0.9},{"g":"BTST116","c":"CuF","v":-0.5},{"g":"BTST116","c":"ToM","v":-0.1},{"g":"BTST116","c":"ToF","v":-0.9},{"g":"BTST116","c":"CoM","v":-0.6},{"g":"BTST116","c":"CoF","v":-0.6},{"g":"BTST116","c":"CaM","v":0.5},{"g":"BTST116","c":"CaF","v":-0.2},
{"g":"BTST35","c":"CuM","v":0.5},{"g":"BTST35","c":"CuF","v":-1.1},{"g":"BTST35","c":"ToM","v":1.2},{"g":"BTST35","c":"ToF","v":0.1},{"g":"BTST35","c":"CoM","v":-0.3},{"g":"BTST35","c":"CoF","v":-1.4},{"g":"BTST35","c":"CaM","v":0},{"g":"BTST35","c":"CaF","v":-0.8},
{"g":"BTST76","c":"CuM","v":0.3},{"g":"BTST76","c":"CuF","v":-2.8},{"g":"BTST76","c":"ToM","v":2},{"g":"BTST76","c":"ToF","v":-0.8},{"g":"BTST76","c":"CoM","v":0.5},{"g":"BTST76","c":"CoF","v":-2.4},{"g":"BTST76","c":"CaM","v":0.7},{"g":"BTST76","c":"CaF","v":-2.9},
{"g":"BTST105","c":"CuM","v":-1},{"g":"BTST105","c":"CuF","v":-2.2},{"g":"BTST105","c":"ToM","v":0.4},{"g":"BTST105","c":"ToF","v":-0.8},{"g":"BTST105","c":"CoM","v":0.3},{"g":"BTST105","c":"CoF","v":-2.1},{"g":"BTST105","c":"CaM","v":0.4},{"g":"BTST105","c":"CaF","v":-2.1},
{"g":"BTST28","c":"CuM","v":0.2},{"g":"BTST28","c":"CuF","v":-3.5},{"g":"BTST28","c":"ToM","v":1.3},{"g":"BTST28","c":"ToF","v":0.6},{"g":"BTST28","c":"CoM","v":0.3},{"g":"BTST28","c":"CoF","v":-3.5},{"g":"BTST28","c":"CaM","v":0.4},{"g":"BTST28","c":"CaF","v":-3.5},
{"g":"BTST125","c":"CuM","v":-1.7},{"g":"BTST125","c":"CuF","v":-3.5},{"g":"BTST125","c":"ToM","v":0.3},{"g":"BTST125","c":"ToF","v":0},{"g":"BTST125","c":"CoM","v":-0.4},{"g":"BTST125","c":"CoF","v":-3.5},{"g":"BTST125","c":"CaM","v":-0.5},{"g":"BTST125","c":"CaF","v":-3.5},
{"g":"BTST118","c":"CuM","v":-1.7},{"g":"BTST118","c":"CuF","v":-3.5},{"g":"BTST118","c":"ToM","v":-0.6},{"g":"BTST118","c":"ToF","v":0.5},{"g":"BTST118","c":"CoM","v":-0.5},{"g":"BTST118","c":"CoF","v":-3.5},{"g":"BTST118","c":"CaM","v":0.1},{"g":"BTST118","c":"CaF","v":-0.1},
{"g":"BTST119","c":"CuM","v":-0.2},{"g":"BTST119","c":"CuF","v":-2.2},{"g":"BTST119","c":"ToM","v":-1.6},{"g":"BTST119","c":"ToF","v":-0.8},{"g":"BTST119","c":"CoM","v":-0.3},{"g":"BTST119","c":"CoF","v":-2.5},{"g":"BTST119","c":"CaM","v":-0.5},{"g":"BTST119","c":"CaF","v":-0.7},
{"g":"BTST52","c":"CuM","v":0.5},{"g":"BTST52","c":"CuF","v":-1.8},{"g":"BTST52","c":"ToM","v":2},{"g":"BTST52","c":"ToF","v":1.3},{"g":"BTST52","c":"CoM","v":0.4},{"g":"BTST52","c":"CoF","v":-0.2},{"g":"BTST52","c":"CaM","v":0.4},{"g":"BTST52","c":"CaF","v":-1.9},
{"g":"BTST1","c":"CuM","v":-3.5},{"g":"BTST1","c":"CuF","v":2.8},{"g":"BTST1","c":"ToM","v":3.2},{"g":"BTST1","c":"ToF","v":3.5},{"g":"BTST1","c":"CoM","v":3.2},{"g":"BTST1","c":"CoF","v":2.5},{"g":"BTST1","c":"CaM","v":3.5},{"g":"BTST1","c":"CaF","v":2.9},
{"g":"BTST133","c":"CuM","v":2.4},{"g":"BTST133","c":"CuF","v":2.7},{"g":"BTST133","c":"ToM","v":3.5},{"g":"BTST133","c":"ToF","v":3.5},{"g":"BTST133","c":"CoM","v":-0.8},{"g":"BTST133","c":"CoF","v":-0.9},{"g":"BTST133","c":"CaM","v":2},{"g":"BTST133","c":"CaF","v":2.1},
{"g":"BTST136","c":"CuM","v":3},{"g":"BTST136","c":"CuF","v":1.9},{"g":"BTST136","c":"ToM","v":3.5},{"g":"BTST136","c":"ToF","v":3},{"g":"BTST136","c":"CoM","v":-0.4},{"g":"BTST136","c":"CoF","v":-3},{"g":"BTST136","c":"CaM","v":2.9},{"g":"BTST136","c":"CaF","v":2.5},
{"g":"BTST121","c":"CuM","v":-0.7},{"g":"BTST121","c":"CuF","v":-0.2},{"g":"BTST121","c":"ToM","v":1.1},{"g":"BTST121","c":"ToF","v":1.6},{"g":"BTST121","c":"CoM","v":0.3},{"g":"BTST121","c":"CoF","v":2.1},{"g":"BTST121","c":"CaM","v":-0.6},{"g":"BTST121","c":"CaF","v":1.3},
{"g":"BTST110","c":"CuM","v":-1},{"g":"BTST110","c":"CuF","v":0},{"g":"BTST110","c":"ToM","v":1.1},{"g":"BTST110","c":"ToF","v":1.9},{"g":"BTST110","c":"CoM","v":0.2},{"g":"BTST110","c":"CoF","v":2.3},{"g":"BTST110","c":"CaM","v":-2.3},{"g":"BTST110","c":"CaF","v":0.8},
{"g":"BTST26","c":"CuM","v":-2.4},{"g":"BTST26","c":"CuF","v":1.4},{"g":"BTST26","c":"ToM","v":0.3},{"g":"BTST26","c":"ToF","v":1.9},{"g":"BTST26","c":"CoM","v":2.8},{"g":"BTST26","c":"CoF","v":3.5},{"g":"BTST26","c":"CaM","v":1},{"g":"BTST26","c":"CaF","v":1.8},
{"g":"BTST88","c":"CuM","v":1},{"g":"BTST88","c":"CuF","v":-0.5},{"g":"BTST88","c":"ToM","v":0.6},{"g":"BTST88","c":"ToF","v":0.6},{"g":"BTST88","c":"CoM","v":0.1},{"g":"BTST88","c":"CoF","v":0.2},{"g":"BTST88","c":"CaM","v":-0.2},{"g":"BTST88","c":"CaF","v":0.5},
{"g":"BTST108","c":"CuM","v":1.2},{"g":"BTST108","c":"CuF","v":-0.1},{"g":"BTST108","c":"ToM","v":0.8},{"g":"BTST108","c":"ToF","v":1.2},{"g":"BTST108","c":"CoM","v":0.4},{"g":"BTST108","c":"CoF","v":0.4},{"g":"BTST108","c":"CaM","v":-0.2},{"g":"BTST108","c":"CaF","v":0.9},
{"g":"BTST74","c":"CuM","v":-0.4},{"g":"BTST74","c":"CuF","v":0.1},{"g":"BTST74","c":"ToM","v":0.7},{"g":"BTST74","c":"ToF","v":0.5},{"g":"BTST74","c":"CoM","v":0.2},{"g":"BTST74","c":"CoF","v":1.1},{"g":"BTST74","c":"CaM","v":0.2},{"g":"BTST74","c":"CaF","v":0.1},
{"g":"BTST98","c":"CuM","v":0.3},{"g":"BTST98","c":"CuF","v":0.3},{"g":"BTST98","c":"ToM","v":2.8},{"g":"BTST98","c":"ToF","v":2.6},{"g":"BTST98","c":"CoM","v":1.1},{"g":"BTST98","c":"CoF","v":1.7},{"g":"BTST98","c":"CaM","v":1.3},{"g":"BTST98","c":"CaF","v":0.6},
{"g":"BTST122","c":"CuM","v":0.1},{"g":"BTST122","c":"CuF","v":0.3},{"g":"BTST122","c":"ToM","v":3.1},{"g":"BTST122","c":"ToF","v":2.9},{"g":"BTST122","c":"CoM","v":1.2},{"g":"BTST122","c":"CoF","v":2.4},{"g":"BTST122","c":"CaM","v":1.1},{"g":"BTST122","c":"CaF","v":-0.1},
{"g":"BTST69","c":"CuM","v":1.8},{"g":"BTST69","c":"CuF","v":0},{"g":"BTST69","c":"ToM","v":1.8},{"g":"BTST69","c":"ToF","v":1.8},{"g":"BTST69","c":"CoM","v":2.4},{"g":"BTST69","c":"CoF","v":0.9},{"g":"BTST69","c":"CaM","v":2.1},{"g":"BTST69","c":"CaF","v":0.3},
{"g":"BTST23","c":"CuM","v":0.5},{"g":"BTST23","c":"CuF","v":1.5},{"g":"BTST23","c":"ToM","v":1.3},{"g":"BTST23","c":"ToF","v":0.4},{"g":"BTST23","c":"CoM","v":1.5},{"g":"BTST23","c":"CoF","v":1.6},{"g":"BTST23","c":"CaM","v":0.5},{"g":"BTST23","c":"CaF","v":1.2},
{"g":"BTST129","c":"CuM","v":0.9},{"g":"BTST129","c":"CuF","v":1.3},{"g":"BTST129","c":"ToM","v":2.2},{"g":"BTST129","c":"ToF","v":2.8},{"g":"BTST129","c":"CoM","v":1.5},{"g":"BTST129","c":"CoF","v":3},{"g":"BTST129","c":"CaM","v":0.3},{"g":"BTST129","c":"CaF","v":2.4},
{"g":"BTST93","c":"CuM","v":1.5},{"g":"BTST93","c":"CuF","v":1.4},{"g":"BTST93","c":"ToM","v":2},{"g":"BTST93","c":"ToF","v":2.5},{"g":"BTST93","c":"CoM","v":2.2},{"g":"BTST93","c":"CoF","v":3.2},{"g":"BTST93","c":"CaM","v":1.4},{"g":"BTST93","c":"CaF","v":2.7},
{"g":"BTST79","c":"CuM","v":1.2},{"g":"BTST79","c":"CuF","v":1.3},{"g":"BTST79","c":"ToM","v":2},{"g":"BTST79","c":"ToF","v":2.4},{"g":"BTST79","c":"CoM","v":2},{"g":"BTST79","c":"CoF","v":3.2},{"g":"BTST79","c":"CaM","v":0.8},{"g":"BTST79","c":"CaF","v":2.5},
{"g":"BTST57","c":"CuM","v":3.2},{"g":"BTST57","c":"CuF","v":3},{"g":"BTST57","c":"ToM","v":2.9},{"g":"BTST57","c":"ToF","v":3.2},{"g":"BTST57","c":"CoM","v":3.5},{"g":"BTST57","c":"CoF","v":3.5},{"g":"BTST57","c":"CaM","v":2.4},{"g":"BTST57","c":"CaF","v":3.5},
{"g":"BTST124","c":"CuM","v":3.1},{"g":"BTST124","c":"CuF","v":2.6},{"g":"BTST124","c":"ToM","v":3},{"g":"BTST124","c":"ToF","v":2.9},{"g":"BTST124","c":"CoM","v":2.9},{"g":"BTST124","c":"CoF","v":3.5},{"g":"BTST124","c":"CaM","v":2},{"g":"BTST124","c":"CaF","v":3.3},
{"g":"BTST92","c":"CuM","v":1.1},{"g":"BTST92","c":"CuF","v":0.8},{"g":"BTST92","c":"ToM","v":1.2},{"g":"BTST92","c":"ToF","v":0.3},{"g":"BTST92","c":"CoM","v":1.1},{"g":"BTST92","c":"CoF","v":0.8},{"g":"BTST92","c":"CaM","v":1.2},{"g":"BTST92","c":"CaF","v":1},
{"g":"BTST95","c":"CuM","v":0.2},{"g":"BTST95","c":"CuF","v":1.9},{"g":"BTST95","c":"ToM","v":1.1},{"g":"BTST95","c":"ToF","v":3.5},{"g":"BTST95","c":"CoM","v":0.7},{"g":"BTST95","c":"CoF","v":3.5},{"g":"BTST95","c":"CaM","v":0.5},{"g":"BTST95","c":"CaF","v":2.7},
{"g":"BTST50","c":"CuM","v":1.5},{"g":"BTST50","c":"CuF","v":1.9},{"g":"BTST50","c":"ToM","v":0.1},{"g":"BTST50","c":"ToF","v":1.1},{"g":"BTST50","c":"CoM","v":0.7},{"g":"BTST50","c":"CoF","v":1.1},{"g":"BTST50","c":"CaM","v":0.2},{"g":"BTST50","c":"CaF","v":1.7},
{"g":"BTST96","c":"CuM","v":2.8},{"g":"BTST96","c":"CuF","v":1.3},{"g":"BTST96","c":"ToM","v":0.6},{"g":"BTST96","c":"ToF","v":0.5},{"g":"BTST96","c":"CoM","v":2.7},{"g":"BTST96","c":"CoF","v":0.9},{"g":"BTST96","c":"CaM","v":0.7},{"g":"BTST96","c":"CaF","v":3.5},
{"g":"BTST68","c":"CuM","v":1.9},{"g":"BTST68","c":"CuF","v":0.1},{"g":"BTST68","c":"ToM","v":0.4},{"g":"BTST68","c":"ToF","v":-2.6},{"g":"BTST68","c":"CoM","v":2.3},{"g":"BTST68","c":"CoF","v":0.7},{"g":"BTST68","c":"CaM","v":0.6},{"g":"BTST68","c":"CaF","v":0.7},
{"g":"BTST42","c":"CuM","v":-1},{"g":"BTST42","c":"CuF","v":0.1},{"g":"BTST42","c":"ToM","v":0.1},{"g":"BTST42","c":"ToF","v":-2.7},{"g":"BTST42","c":"CoM","v":-0.3},{"g":"BTST42","c":"CoF","v":2},{"g":"BTST42","c":"CaM","v":-0.7},{"g":"BTST42","c":"CaF","v":-0.7}]
},
"layer":[
{"data":{"name":"dendroA"},"mark":{"type":"rule","stroke":"#000000","strokeWidth":1.5},"encoding":{"x":{"field":"h0","type":"quantitative","scale":{"domain":[0,60],"range":[60,0]},"axis":null},"x2":{"field":"h1"},"y":{"field":"r0","type":"quantitative","scale":{"domain":[-0.5,40.5],"range":[47.7,485.7],"zero":false,"nice":false},"axis":null},"y2":{"field":"r1"}}},
{"data":{"name":"dendroB"},"mark":{"type":"rule","stroke":"#000000","strokeWidth":1.5},"encoding":{"x":{"field":"h0","type":"quantitative","scale":{"domain":[0,60],"range":[60,0]},"axis":null},"x2":{"field":"h1"},"y":{"field":"r0","type":"quantitative","scale":{"domain":[-0.5,32.5],"range":[596.7,949.3],"zero":false,"nice":false},"axis":null},"y2":{"field":"r1"}}},
{"data":{"name":"dendroC"},"mark":{"type":"rule","stroke":"#000000","strokeWidth":1.5},"encoding":{"x":{"field":"h0","type":"quantitative","scale":{"domain":[0,60],"range":[482.7,422.7]},"axis":null},"x2":{"field":"h1"},"y":{"field":"r0","type":"quantitative","scale":{"domain":[-0.5,62.5],"range":[48.3,721],"zero":false,"nice":false},"axis":null},"y2":{"field":"r1"}}},
{"data":{"name":"heatA"},"mark":{"type":"rect","strokeWidth":0.4},"encoding":{"x":{"field":"c","type":"nominal","sort":null,"scale":{"range":[65.7,180],"padding":0},"axis":{"orient":"top","offset":-44,"title":null,"labelAngle":-90,"labelAlign":"left","labelBaseline":"middle","labelPadding":1,"labelOffset":2,"labelFontSize":11}},"y":{"field":"g","type":"nominal","sort":null,"scale":{"range":[47.7,485.7],"padding":0},"axis":{"orient":"right","offset":-557,"title":null,"labelPadding":3.3}},"color":{"field":"v","type":"quantitative","scale":{"domain":[-3.5,0,3.5],"range":["#0000ff","#000000","#ffff00"],"interpolate":"rgb"},"legend":null},"stroke":{"field":"v","type":"quantitative","scale":{"domain":[-3.5,0,3.5],"range":["#0000ff","#000000","#ffff00"],"interpolate":"rgb"},"legend":null}}},
{"data":{"name":"heatB"},"mark":{"type":"rect","strokeWidth":0.4},"encoding":{"x":{"field":"c","type":"nominal","sort":null,"scale":{"range":[65.7,180],"padding":0},"axis":{"orient":"top","offset":-593,"title":null,"labelAngle":-90,"labelAlign":"left","labelBaseline":"middle","labelPadding":1,"labelOffset":2,"labelFontSize":11}},"y":{"field":"g","type":"nominal","sort":null,"scale":{"range":[596.7,949.3],"padding":0},"axis":{"orient":"right","offset":-557,"title":null,"labelPadding":3.3}},"color":{"field":"v","type":"quantitative","scale":{"domain":[-3.5,0,3.5],"range":["#0000ff","#000000","#ffff00"],"interpolate":"rgb"},"legend":null},"stroke":{"field":"v","type":"quantitative","scale":{"domain":[-3.5,0,3.5],"range":["#0000ff","#000000","#ffff00"],"interpolate":"rgb"},"legend":null}}},
{"data":{"name":"heatC"},"mark":{"type":"rect","strokeWidth":0.4},"encoding":{"x":{"field":"c","type":"nominal","sort":null,"scale":{"range":[487.7,601],"padding":0},"axis":{"orient":"top","offset":-44,"title":null,"labelAngle":-90,"labelAlign":"left","labelBaseline":"middle","labelPadding":1,"labelOffset":2,"labelFontSize":11}},"y":{"field":"g","type":"nominal","sort":null,"scale":{"range":[48.3,721],"padding":0},"axis":{"orient":"right","offset":-136,"title":null,"labelPadding":4.7}},"color":{"field":"v","type":"quantitative","scale":{"domain":[-3.5,0,3.5],"range":["#0000ff","#000000","#ffff00"],"interpolate":"rgb"},"legend":null},"stroke":{"field":"v","type":"quantitative","scale":{"domain":[-3.5,0,3.5],"range":["#0000ff","#000000","#ffff00"],"interpolate":"rgb"},"legend":null}}},
{"data":{"name":"legend"},"mark":{"type":"rect"},"encoding":{"x":{"field":"k","type":"nominal","scale":{"range":[254,269],"padding":0},"axis":null},"y":{"field":"label","type":"nominal","sort":null,"scale":{"range":[404,482.3],"padding":0},"axis":{"orient":"right","offset":-468,"title":null,"labelAlign":"right","labelPadding":27.7}},"color":{"field":"v","type":"quantitative","scale":{"domain":[-3.5,0,3.5],"range":["#0000ff","#000000","#ffff00"],"interpolate":"rgb"},"legend":null}}},
{"data":{"name":"legend"},"mark":{"type":"rect"},"encoding":{"x":{"field":"k","type":"nominal","scale":{"range":[274,289],"padding":0},"axis":null},"y":{"field":"label","type":"nominal","sort":null,"scale":{"range":[866.7,945],"padding":0},"axis":{"orient":"right","offset":-448,"title":null,"labelAlign":"right","labelPadding":27.7}},"color":{"field":"v","type":"quantitative","scale":{"domain":[-3.5,0,3.5],"range":["#0000ff","#000000","#ffff00"],"interpolate":"rgb"},"legend":null}}},
{"data":{"name":"legend"},"mark":{"type":"rect"},"encoding":{"x":{"field":"k","type":"nominal","scale":{"range":[692.3,707.3],"padding":0},"axis":null},"y":{"field":"label","type":"nominal","sort":null,"scale":{"range":[640.7,719],"padding":0},"axis":{"orient":"right","offset":-29.7,"title":null,"labelAlign":"right","labelPadding":27.7}},"color":{"field":"v","type":"quantitative","scale":{"domain":[-3.5,0,3.5],"range":["#0000ff","#000000","#ffff00"],"interpolate":"rgb"},"legend":null}}},
{"data":{"values":[{"panel":"A"}]},"mark":{"type":"text","font":"Liberation Sans","fontWeight":"bold","fontSize":14,"color":"#000000"},"encoding":{"text":{"field":"panel"},"x":{"field":"panel","type":"nominal","scale":{"range":[2,12],"padding":0},"axis":null},"y":{"field":"panel","type":"nominal","scale":{"range":[5,15],"padding":0},"axis":null}}},
{"data":{"values":[{"panel":"B"}]},"mark":{"type":"text","font":"Liberation Sans","fontWeight":"bold","fontSize":14,"color":"#000000"},"encoding":{"text":{"field":"panel"},"x":{"field":"panel","type":"nominal","scale":{"range":[2,12],"padding":0},"axis":null},"y":{"field":"panel","type":"nominal","scale":{"range":[547,557],"padding":0},"axis":null}}},
{"data":{"values":[{"panel":"C"}]},"mark":{"type":"text","font":"Liberation Sans","fontWeight":"bold","fontSize":14,"color":"#000000"},"encoding":{"text":{"field":"panel"},"x":{"field":"panel","type":"nominal","scale":{"range":[432.7,443],"padding":0},"axis":null},"y":{"field":"panel","type":"nominal","scale":{"range":[4,14],"padding":0},"axis":null}}}
],
"resolve":{"scale":{"x":"independent","y":"independent"},"axis":{"x":"independent","y":"independent"}}}
